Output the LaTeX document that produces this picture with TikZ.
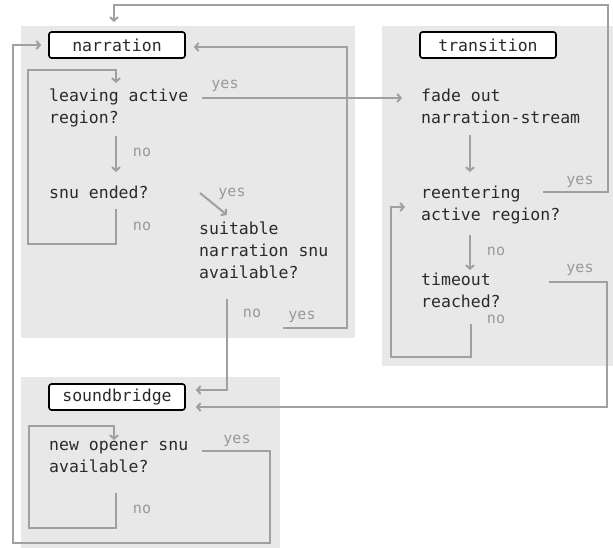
\documentclass[tikz,border=0pt]{standalone}
\usepackage{fontspec}
\setmonofont{DejaVu Sans Mono}
\usetikzlibrary{arrows.meta,calc}
\definecolor{panelc}{HTML}{E8E8E8}
\definecolor{connc}{HTML}{A0A0A0}
\definecolor{lblc}{HTML}{999999}
\definecolor{txtc}{HTML}{2A2A2A}
\tikzset{
  titlebox/.style={draw=black,line width=1.6pt,rounded corners=2.5pt,fill=white,
    minimum width=136pt,minimum height=26pt,inner sep=0pt,text=txtc,
    font=\ttfamily\fontsize{16.5}{22}\selectfont},
  qtext/.style={anchor=north west,inner sep=0pt,align=left,text=txtc,
    font=\ttfamily\fontsize{16.5}{22}\selectfont,execute at begin node=\strut},
  lbltext/.style={anchor=base,inner sep=0pt,text=lblc,
    font=\ttfamily\fontsize{15}{18}\selectfont},
  conn/.style={draw=connc,line width=2pt,-{Straight Barb[length=3.5pt,width=8pt]}},
}
\begin{document}
\begin{tikzpicture}[x=1pt,y=-1pt]
\useasboundingbox (0,0) rectangle (613,548);
% panels
\fill[panelc] (20.5,26) rectangle (355,338);
\fill[panelc] (382,26) rectangle (613,366);
\fill[panelc] (20.5,377) rectangle (280,548);
% titles
\node[titlebox] (narr) at (117,45) {narration};
\node[titlebox] (trans) at (488,45) {transition};
\node[titlebox] (sb) at (117,397) {soundbridge};
% questions
\node[qtext] (leave) at (49,88.6) {leaving active\\region?};
\node[qtext] (ended) at (49,182.6) {snu ended?};
\node[qtext] (suit) at (199,221.3) {suitable\\narration snu\\available?};
\node[qtext] (fade) at (421,88.6) {fade out\\narration-stream};
\node[qtext] (reent) at (421,185.3) {reentering\\active region?};
\node[qtext] (tout) at (421,272.9) {timeout\\reached?};
\node[qtext] (opener) at (49,441.3) {new opener snu\\available?};
% labels
\node[lbltext] (l1) at (225,89) {yes};
\node[lbltext] (l2) at (142,157) {no};
\node[lbltext] (l3) at (232,197) {yes};
\node[lbltext] (l4) at (142,230) {no};
\node[lbltext] (l5) at (252,317) {no};
\node[lbltext] (l6) at (302,319) {yes};
\node[lbltext] (l7) at (580,185) {yes};
\node[lbltext] (l8) at (496,255) {no};
\node[lbltext] (l9) at (580,272.5) {yes};
\node[lbltext] (l10) at (496,323) {no};
\node[lbltext] (l11) at (237,443) {yes};
\node[lbltext] (l12) at (142,513) {no};
% connector end points
\coordinate (reyes) at (543,192);
\coordinate (narrtop) at (114,22);
\coordinate (opyes) at (202,451);
\coordinate (endno) at (116,209);
\coordinate (leavein) at (116,83);
\coordinate (leaveno) at (116,136);
\coordinate (endedin) at (116,172);
\coordinate (leaveyes) at (202,98);
\coordinate (fadein) at (402,98);
\coordinate (endyes) at (200,193);
\coordinate (suitin) at (227,215);
\coordinate (suitno) at (227,299);
\coordinate (suityes) at (283,328);
\coordinate (fadeout) at (470,135);
\coordinate (reentin) at (470,172);
\coordinate (reentno) at (470,235);
\coordinate (toutin) at (470,270);
\coordinate (toutno) at (471,324);
\coordinate (reentloop) at (405,207);
\coordinate (toutyes) at (549,282);
\coordinate (opno) at (116,493);
\coordinate (opin) at (114,440);
% connectors
\draw[conn] (reyes) -- (608,192) -- (608,5) -- (114,5) -- (narrtop);
\draw[conn] (opyes) -- (270,451) -- (270,543) -- (13,543) -- (13,45) -- ([xshift=-7pt]narr.west);
\draw[conn] (endno) -- (116,244) -- (28,244) -- (28,70) -- (116,70) -- (leavein);
\draw[conn] (leaveno) -- (endedin);
\draw[conn] (leaveyes) -- (fadein);
\draw[conn] (endyes) -- (suitin);
\draw[conn] (suitno) -- (227,390) -- ([xshift=10pt,yshift=7pt]sb.east);
\draw[conn] (suityes) -- (347,328) -- (347,47) -- ([xshift=8pt,yshift=-2pt]narr.east);
\draw[conn] (fadeout) -- (reentin);
\draw[conn] (reentno) -- (toutin);
\draw[conn] (toutno) -- (471,357) -- (391,357) -- (391,207) -- (reentloop);
\draw[conn] (toutyes) -- (607,282) -- (607,407) -- ([xshift=10pt,yshift=-10pt]sb.east);
\draw[conn] (opno) -- (116,528) -- (29,528) -- (29,426) -- (114,426) -- (opin);
\end{tikzpicture}
\end{document}
